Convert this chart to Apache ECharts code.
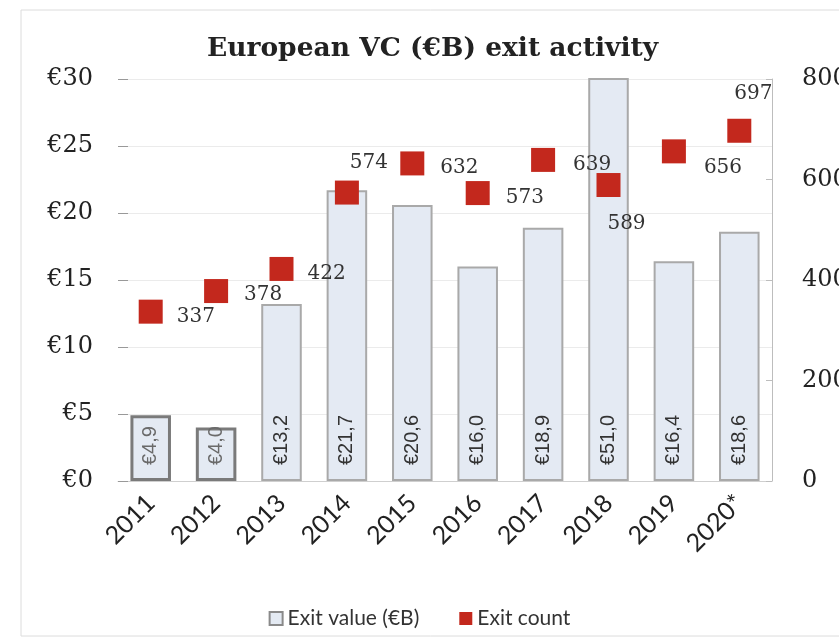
<!DOCTYPE html>
<html>
<head>
<meta charset="utf-8">
<script src="https://cdn.jsdelivr.net/npm/echarts@6/dist/echarts.min.js"></script>
<style>
  html, body { margin: 0; padding: 0; background: #fff; }
  #chart { width: 839px; height: 640px; }
</style>
</head>
<body>
<div id="chart"></div>
<script>
  // data
  const years = ['2011', '2012', '2013', '2014', '2015', '2016', '2017', '2018', '2019', '2020*'];
  const exitValue = [4.9, 4.0, 13.2, 21.7, 20.6, 16.0, 18.9, 51.0, 16.4, 18.6];
  const exitCount = [337, 378, 422, 574, 632, 573, 639, 589, 656, 697];
  const leftTicks = [0, 5, 10, 15, 20, 25, 30];
  const rightTicks = [0, 200, 400, 600, 800];

  // label placement for the count markers (not data)
  const countLabelPos = ['right', 'right', 'right', 'top', 'right', 'right', 'right', 'bottom', 'right', 'top'];
  const countLabelOffset = [[2, 5], [4, 4], [2, 5], [22, 4], [4, 4], [4, 5], [6, 5], [18, 5], [6, 16], [14, -3]];

  const serif = 'DejaVu Serif';
  const sans = 'Lato';

  const chart = echarts.init(document.getElementById('chart'), null, { renderer: 'canvas' });

  const barData = exitValue.map((v, i) => {
    const early = i < 2;
    return {
      value: v,
      itemStyle: {
        color: '#e4eaf3',
        borderColor: early ? '#7a7a7a' : '#a9a9a9',
        borderWidth: early ? 3 : 2,
      },
      label: { color: early ? '#6a6a6a' : '#333' },
    };
  });

  const countData = exitCount.map((v, i) => ({
    value: v,
    label: { position: countLabelPos[i], offset: countLabelOffset[i] },
  }));

  const option = {
    backgroundColor: '#fff',
    animation: false,
    title: {
      text: 'European VC (€B) exit activity',
      left: 202,
      top: 31,
      textStyle: { fontFamily: serif, fontWeight: 'bold', fontSize: 26.5, color: '#222' },
    },
    graphic: [
      {
        type: 'rect',
        shape: { x: 21, y: 10, width: 840, height: 626 },
        style: { fill: 'none', stroke: '#dcdcdc', lineWidth: 1 },
        silent: true,
      },
    ],
    legend: {
      left: 'center',
      top: 603,
      itemWidth: 13,
      itemHeight: 13,
      itemGap: 40,
      textStyle: { fontFamily: sans, fontSize: 21, color: '#333' },
      data: [
        { name: 'Exit value (€B)', icon: 'rect', itemStyle: { color: '#e4eaf3', borderColor: '#8a8a8a', borderWidth: 2 } },
        { name: 'Exit count', icon: 'rect', itemStyle: { color: '#c3281d' } },
      ],
    },
    grid: { left: 118, right: 67, top: 79, bottom: 159, containLabel: false, outerBoundsMode: 'none' },
    xAxis: {
      type: 'category',
      data: years,
      axisLine: { lineStyle: { color: '#cfcfcf' } },
      axisTick: { show: false },
      axisLabel: {
        rotate: 45,
        margin: 18,
        fontFamily: sans,
        fontSize: 25,
        color: '#222',
        interval: 0,
      },
    },
    yAxis: [
      {
        type: 'value',
        min: leftTicks[0],
        max: leftTicks[leftTicks.length - 1],
        interval: 5,
        axisLine: { show: false },
        axisTick: { show: true, inside: true, length: 10, lineStyle: { color: '#999' } },
        splitLine: { lineStyle: { color: '#ebebeb' } },
        axisLabel: {
          margin: 25,
          fontFamily: serif,
          fontSize: 24,
          color: '#222',
          formatter: (v) => '€' + v,
        },
      },
      {
        type: 'value',
        min: rightTicks[0],
        max: rightTicks[rightTicks.length - 1],
        interval: 200,
        axisLine: { show: true, lineStyle: { color: '#bdbdbd' } },
        axisTick: { show: true, inside: true, length: 6, lineStyle: { color: '#bdbdbd' } },
        splitLine: { show: false },
        axisLabel: {
          margin: 30,
          fontFamily: serif,
          fontSize: 24,
          color: '#222',
        },
      },
    ],
    series: [
      {
        name: 'Exit value (€B)',
        type: 'bar',
        yAxisIndex: 0,
        barWidth: '62%',
        clip: true,
        data: barData,
        label: {
          show: true,
          position: 'insideBottom',
          rotate: 90,
          align: 'left',
          verticalAlign: 'middle',
          distance: 16,
          fontFamily: 'Liberation Sans',
          fontSize: 20,
          formatter: (p) => '€' + p.value.toFixed(1).replace('.', ','),
        },
      },
      {
        name: 'Exit count',
        type: 'scatter',
        yAxisIndex: 1,
        symbol: 'rect',
        symbolSize: 24,
        itemStyle: { color: '#c3281d', opacity: 1 },
        data: countData,
        label: {
          show: true,
          distance: 12,
          fontFamily: serif,
          fontSize: 20,
          color: '#333',
        },
        z: 5,
      },
    ],
  };

  chart.setOption(option);
</script>
</body>
</html>
